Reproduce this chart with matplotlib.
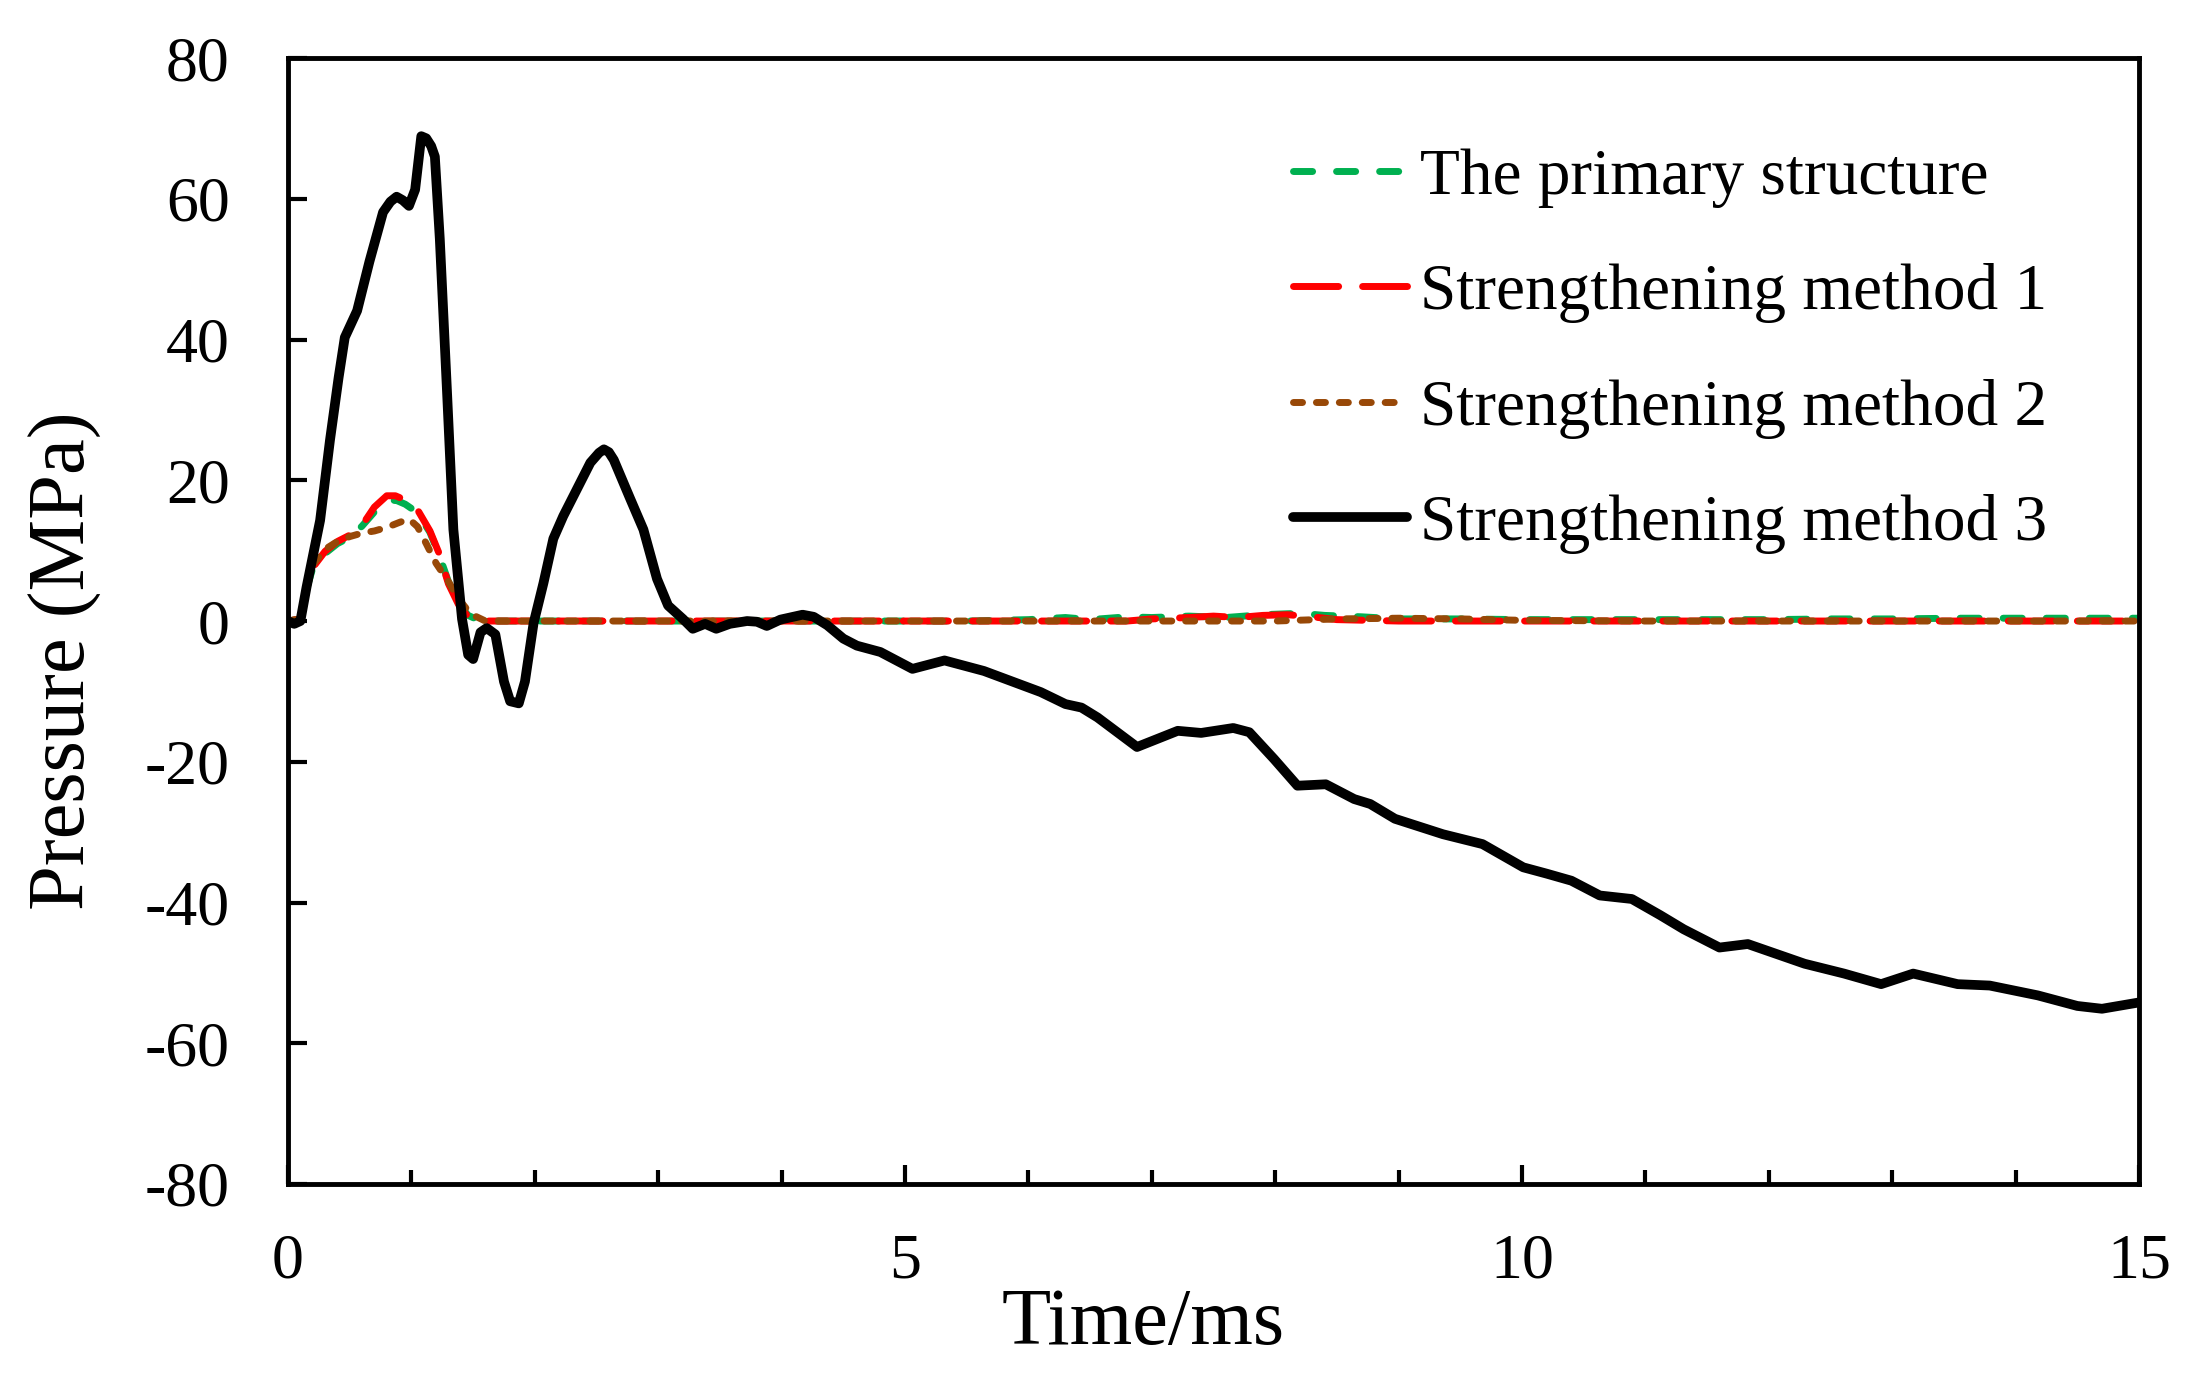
import matplotlib
matplotlib.use("Agg")
import matplotlib.pyplot as plt

plt.rcParams['font.family'] = ['Liberation Serif', 'DejaVu Serif']
plt.rcParams['axes.unicode_minus'] = False

# data (time in ms, pressure in MPa)
t_primary = [0, 0.1, 0.15, 0.2, 0.3, 0.4, 0.5, 0.6, 0.7, 0.8, 0.87, 0.95, 1.05, 1.15, 1.22, 1.3, 1.38,
             1.46, 1.56, 2, 3, 4, 5, 5.5, 6, 6.3, 6.5, 6.8, 7.0, 7.3, 7.6, 7.9, 8.2, 8.4, 8.7, 9.0, 9.5,
             10, 11, 12, 12.5, 13, 13.5, 14, 14.5, 15]
p_primary = [0, 0.3, 4.5, 7.5, 9.6, 11.0, 11.9, 13.5, 15.5, 16.8, 17.2, 16.6, 15.4, 12.6, 9.6, 5.6, 2.5,
             0.8, 0, 0, 0, 0, 0, 0, 0.2, 0.5, 0.2, 0.6, 0.5, 0.7, 0.5, 0.9, 1.1, 0.8, 0.6, 0.3, 0.3,
             0.2, 0.2, 0.2, 0.3, 0.3, 0.4, 0.4, 0.4, 0.4]

t_m1 = [0, 0.1, 0.15, 0.2, 0.3, 0.4, 0.5, 0.6, 0.7, 0.8, 0.87, 0.95, 1.05, 1.15, 1.22, 1.3, 1.38, 1.46,
        1.56, 2, 4, 6, 6.8, 7.0, 7.3, 7.5, 7.7, 7.9, 8.1, 8.3, 8.5, 9, 10, 12, 15]
p_m1 = [0, 0.3, 4.5, 7.6, 9.9, 11.3, 12.2, 13.6, 16.2, 17.8, 17.8, 17.2, 15.8, 12.8, 9.8, 5.3, 2.4, 0.6,
        0, 0, 0, 0, 0, 0.3, 0.5, 0.7, 0.5, 0.8, 0.9, 0.6, 0.2, 0, 0, 0, 0]

t_m2 = [0, 0.1, 0.15, 0.2, 0.3, 0.4, 0.5, 0.6, 0.7, 0.8, 0.9, 0.98, 1.05, 1.12, 1.2, 1.3, 1.38, 1.48,
        1.6, 2, 4, 6, 8, 8.5, 9, 9.5, 10, 11, 12, 15]
p_m2 = [0, 0.3, 4.5, 8.0, 10.2, 11.3, 12.0, 12.5, 12.8, 13.3, 14.0, 14.5, 13.4, 11.0, 8.2, 5.6, 3.2, 1.0,
        0, 0, 0, 0, 0, 0.3, 0.4, 0.3, 0.1, 0, 0, 0]

t_m3 = [0, 0.05, 0.1, 0.15, 0.26, 0.34, 0.41, 0.46, 0.56, 0.66, 0.77, 0.83, 0.88, 0.93, 0.98, 1.03,
        1.08, 1.12, 1.16, 1.19, 1.23, 1.29, 1.34, 1.41, 1.46, 1.50, 1.56, 1.61, 1.68, 1.75, 1.80, 1.87,
        1.92, 1.99, 2.07, 2.15, 2.23, 2.34, 2.45, 2.52, 2.56, 2.60, 2.64, 2.77, 2.88, 2.99, 3.08, 3.20,
        3.28, 3.38, 3.47, 3.58, 3.72, 3.80, 3.88, 3.99, 4.17, 4.26, 4.37, 4.50, 4.61, 4.80, 5.06, 5.32,
        5.64, 6.10, 6.30, 6.43, 6.56, 6.88, 7.21, 7.40, 7.66, 7.79, 7.99, 8.18, 8.41, 8.64, 8.77, 8.97,
        9.36, 9.68, 10.01, 10.20, 10.40, 10.63, 10.89, 11.12, 11.31, 11.60, 11.83, 12.29, 12.61, 12.91,
        13.17, 13.53, 13.79, 14.18, 14.50, 14.70, 15.0]
p_m3 = [0, -0.4, 0, 4.8, 14.3, 25.7, 34.6, 40.3, 44.1, 51.1, 58.1, 59.6, 60.3, 59.8, 59.0, 61.3,
        68.9, 68.6, 67.5, 66.0, 54.3, 32.0, 13.0, 0.3, -4.8, -5.4, -1.6, -1.0, -1.9, -8.6, -11.4, -11.7,
        -8.6, -0.3, 5.4, 11.7, 14.9, 18.7, 22.5, 23.9, 24.4, 24.0, 22.9, 17.5, 13.0, 6.0, 2.2, 0.3,
        -1.1, -0.4, -1.1, -0.4, 0, -0.1, -0.7, 0.2, 0.9, 0.6, -0.6, -2.5, -3.5, -4.4, -6.8, -5.6,
        -7.1, -10.1, -11.8, -12.3, -13.7, -17.9, -15.6, -15.9, -15.2, -15.8, -19.6, -23.4, -23.2, -25.3,
        -26.0, -28.1, -30.3, -31.7, -35.0, -35.9, -36.9, -39.0, -39.5, -41.8, -43.8, -46.4, -45.9, -48.7,
        -50.1, -51.6, -50.1, -51.6, -51.8, -53.2, -54.7, -55.1, -54.2]

labels = ["The primary structure", "Strengthening method 1",
          "Strengthening method 2", "Strengthening method 3"]

fig = plt.figure(figsize=(22.02, 13.83), dpi=100)
ax = fig.add_axes([0.1308, 0.1439, 0.8406, 0.8141])

ax.plot(t_primary, p_primary, color='#00B050', lw=5, dashes=(2.75, 3.45),
        dash_capstyle='round', label=labels[0])
ax.plot(t_m1, p_m1, color='#FF0000', lw=5, dashes=(6.5, 3.45),
        dash_capstyle='round', label=labels[1])
ax.plot(t_m2, p_m2, color='#984807', lw=5, dashes=(1.3, 2.0),
        dash_capstyle='round', label=labels[2])
ax.plot(t_m3, p_m3, color='black', lw=7, solid_joinstyle='round',
        solid_capstyle='round', label=labels[3])

ax.set_xlim(0, 15)
ax.set_ylim(-80, 80)
ax.set_xticks([0, 5, 10, 15])
ax.set_xticks(range(0, 16), minor=True)
ax.set_yticks(range(-80, 81, 20))
ax.tick_params(axis='both', which='major', direction='in', length=14, width=3, labelsize=46)
ax.tick_params(axis='x', which='minor', direction='in', length=10, width=3)
ax.tick_params(axis='x', which='both', pad=36)
ax.tick_params(axis='y', which='major', pad=42)
for s in ax.spines.values():
    s.set_linewidth(3.5)

ax.set_xlabel("Time/ms", fontsize=58)
ax.xaxis.set_label_coords(0.462, -0.142)
ax.xaxis.label.set_va('baseline')
ax.set_ylabel("Pressure (MPa)", fontsize=58)
ax.yaxis.set_label_coords(-0.12, 0.465)
ax.yaxis.label.set_va('center')

ax.legend(loc='upper left', bbox_to_anchor=(0.587, 0.893), bbox_transform=fig.transFigure,
          frameon=False, fontsize=47, handlelength=1.75, handletextpad=0.2,
          labelspacing=0.85, borderpad=0, borderaxespad=0)

fig.savefig("out.png", dpi=100)
